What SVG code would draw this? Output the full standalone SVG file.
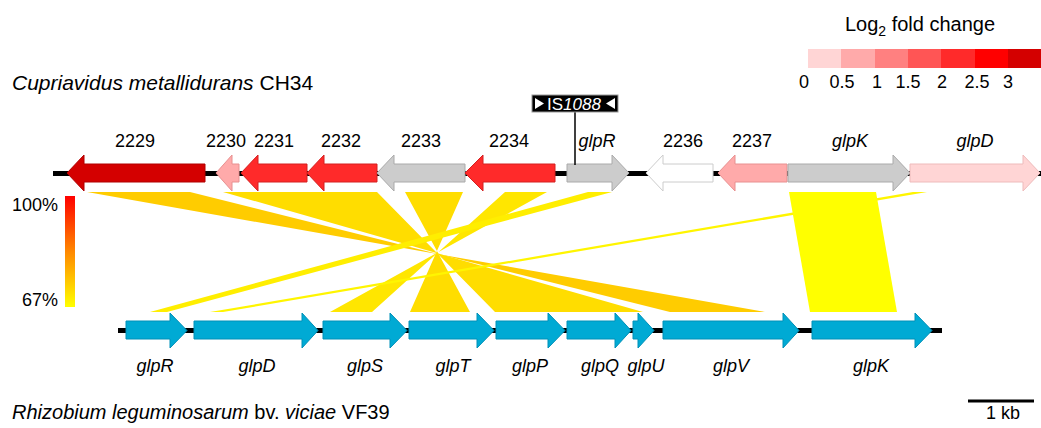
<svg xmlns="http://www.w3.org/2000/svg" width="1041" height="428" viewBox="0 0 1041 428">
<defs>
<linearGradient id="idgrad" x1="0" y1="0" x2="0" y2="1">
<stop offset="0" stop-color="#FF0000"/>
<stop offset="0.5" stop-color="#FF8800"/>
<stop offset="1" stop-color="#FFFF00"/>
</linearGradient>
<style>
text{font-family:"Liberation Sans",Arial,sans-serif;fill:#000}
.lbl{font-size:18px;text-anchor:middle}
.it{font-style:italic}
.sp{font-size:20px}
.trk{stroke:#000;stroke-width:5}
.gene{stroke-width:1}
.blue{fill:#00AAD4;stroke:#0090B8}
.gray{fill:#CCCCCC;stroke:#AAAAAA}
.dred{fill:#D40000;stroke:#B00000}
.red{fill:#FF2A2A;stroke:#D42020}
.pink{fill:#FFAAAA;stroke:#E89090}
.lpink{fill:#FFD5D5;stroke:#EEBBBB}
.white{fill:#FFFFFF;stroke:#CCCCCC}
</style>
</defs>
<rect width="1041" height="428" fill="#fff"/>

<!-- legend: fold change -->
<g id="legend-fold">
<text x="920" y="31" class="lbl" style="font-size:20px">Log<tspan font-size="14" dy="5">2</tspan><tspan dy="-5"> fold change</tspan></text>
<rect x="808" y="49" width="34" height="19" fill="#FFD5D5"/>
<rect x="841" y="49" width="34" height="19" fill="#FFAAAA"/>
<rect x="875" y="49" width="34" height="19" fill="#FF8080"/>
<rect x="908" y="49" width="34" height="19" fill="#FF5555"/>
<rect x="941" y="49" width="35" height="19" fill="#FF2A2A"/>
<rect x="975" y="49" width="34" height="19" fill="#FF0000"/>
<rect x="1008" y="49" width="33" height="19" fill="#D40000"/>
<text x="804" y="88" class="lbl">0</text>
<text x="842" y="88" class="lbl">0.5</text>
<text x="877" y="88" class="lbl">1</text>
<text x="908" y="88" class="lbl">1.5</text>
<text x="942" y="88" class="lbl">2</text>
<text x="977" y="88" class="lbl">2.5</text>
<text x="1008" y="88" class="lbl">3</text>
</g>

<!-- legend: identity -->
<g id="legend-identity">
<rect x="65" y="196" width="10" height="111" fill="url(#idgrad)"/>
<text x="58" y="211" class="lbl" style="text-anchor:end">100%</text>
<text x="58" y="306" class="lbl" style="text-anchor:end">67%</text>
</g>

<text x="12" y="90" class="sp" style="font-size:21px"><tspan class="it">Cupriavidus metallidurans</tspan> CH34</text>
<text x="12" y="419" class="sp"><tspan class="it">Rhizobium leguminosarum</tspan> bv. <tspan class="it">viciae</tspan> VF39</text>

<!-- synteny bands -->
<g id="connectors">
<polygon points="87,192 190,192 670,312 765,312" fill="#FFCC00"/>
<polygon points="223,192 377,192 495,312 643,312" fill="#FFDD00"/>
<polygon points="405,192 463,192 410,312 470,312" fill="#FFDD00"/>
<polygon points="505,192 547,192 330,312 372,312" fill="#FFE600"/>
<polygon points="588,192 612,192 167,312 150,312" fill="#FFEE00"/>
<polygon points="913,192 927,192 223,312 210,312" fill="#FFF500"/>
<polygon points="789,192 876,192 897,312 810,312" fill="#FFFF00"/>
</g>

<!-- tracks -->
<line x1="53" y1="173.5" x2="1041" y2="173.5" class="trk"/>
<line x1="118" y1="330.5" x2="942" y2="330.5" class="trk"/>

<!-- top genes -->
<g id="g2229"><path class="gene dred" d="M67,173 L84,155 L84,164 L205,164 L205,182 L84,182 L84,191 Z"/><text x="135" y="147" class="lbl">2229</text></g>
<g id="g2230"><path class="gene pink" d="M216,173 L232,155 L232,164 L239,164 L239,182 L232,182 L232,191 Z"/><text x="226" y="147" class="lbl">2230</text></g>
<g id="g2231"><path class="gene red" d="M241,173 L258,155 L258,164 L307,164 L307,182 L258,182 L258,191 Z"/><text x="274" y="147" class="lbl">2231</text></g>
<g id="g2232"><path class="gene red" d="M307,173 L324,155 L324,164 L377,164 L377,182 L324,182 L324,191 Z"/><text x="341" y="147" class="lbl">2232</text></g>
<g id="g2233"><path class="gene gray" d="M377,173 L394,155 L394,164 L465,164 L465,182 L394,182 L394,191 Z"/><text x="421" y="147" class="lbl">2233</text></g>
<g id="g2234"><path class="gene red" d="M465,173 L483,155 L483,164 L555,164 L555,182 L483,182 L483,191 Z"/><text x="509" y="147" class="lbl">2234</text></g>
<g id="glpR-top"><path class="gene gray" d="M567,164 L612,164 L612,155 L629,173 L612,191 L612,182 L567,182 Z"/><text x="597" y="147" class="lbl it">glpR</text></g>
<g id="IS1088">
<line x1="575" y1="112" x2="575" y2="165" stroke="#000" stroke-width="1.5"/>
<rect x="532" y="95" width="86" height="17" fill="#000" stroke="#999" stroke-width="1"/>
<polygon points="535,98 544,103.5 535,109" fill="#fff"/>
<polygon points="615,98 606,103.5 615,109" fill="#fff"/>
<text x="574" y="110" class="lbl" style="fill:#fff;font-size:17px">IS<tspan class="it">1088</tspan></text>
</g>
<g id="g2236"><path class="gene white" d="M646,173 L663,155 L663,164 L713,164 L713,182 L663,182 L663,191 Z"/><text x="683" y="147" class="lbl">2236</text></g>
<g id="g2237"><path class="gene pink" d="M718,173 L735,155 L735,164 L787,164 L787,182 L735,182 L735,191 Z"/><text x="752" y="147" class="lbl">2237</text></g>
<g id="glpK-top"><path class="gene gray" d="M788,164 L893,164 L893,155 L910,173 L893,191 L893,182 L788,182 Z"/><text x="850" y="147" class="lbl it">glpK</text></g>
<g id="glpD-top"><path class="gene lpink" d="M910,164 L1023,164 L1023,155 L1040,173 L1023,191 L1023,182 L910,182 Z"/><text x="975" y="147" class="lbl it">glpD</text></g>

<!-- bottom genes -->
<g id="glpR-bot"><path class="gene blue" d="M126,321 L170,321 L170,313 L187,330.5 L170,348 L170,339 L126,339 Z"/><text x="155" y="372" class="lbl it">glpR</text></g>
<g id="glpD-bot"><path class="gene blue" d="M194,321 L302,321 L302,313 L318,330.5 L302,348 L302,339 L194,339 Z"/><text x="257" y="372" class="lbl it">glpD</text></g>
<g id="glpS"><path class="gene blue" d="M323,321 L390,321 L390,313 L407,330.5 L390,348 L390,339 L323,339 Z"/><text x="365" y="372" class="lbl it">glpS</text></g>
<g id="glpT"><path class="gene blue" d="M409,321 L477,321 L477,313 L494,330.5 L477,348 L477,339 L409,339 Z"/><text x="453" y="372" class="lbl it">glpT</text></g>
<g id="glpP"><path class="gene blue" d="M496,321 L548,321 L548,313 L565,330.5 L548,348 L548,339 L496,339 Z"/><text x="530" y="372" class="lbl it">glpP</text></g>
<g id="glpQ"><path class="gene blue" d="M567,321 L615,321 L615,313 L631,330.5 L615,348 L615,339 L567,339 Z"/><text x="600" y="372" class="lbl it">glpQ</text></g>
<g id="glpU"><path class="gene blue" d="M633,321 L638,321 L638,313 L654,330.5 L638,348 L638,339 L633,339 Z"/><text x="646" y="372" class="lbl it">glpU</text></g>
<g id="glpV"><path class="gene blue" d="M663,321 L783,321 L783,313 L799,330.5 L783,348 L783,339 L663,339 Z"/><text x="731" y="372" class="lbl it">glpV</text></g>
<g id="glpK-bot"><path class="gene blue" d="M812,321 L915,321 L915,313 L932,330.5 L915,348 L915,339 L812,339 Z"/><text x="871" y="372" class="lbl it">glpK</text></g>

<!-- scale bar -->
<g id="scalebar">
<line x1="968" y1="401" x2="1034" y2="401" stroke="#000" stroke-width="3"/>
<text x="1003" y="419" class="lbl">1 kb</text>
</g>
</svg>
